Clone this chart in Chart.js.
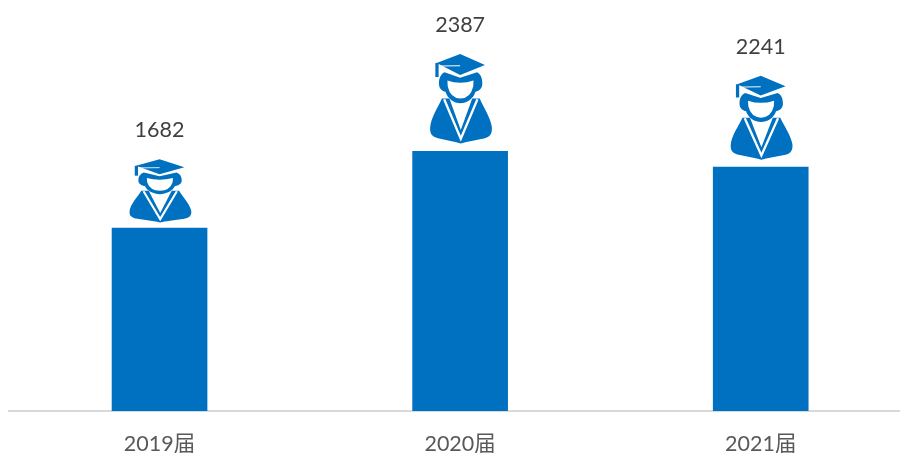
<!DOCTYPE html>
<html>
<head>
<meta charset="utf-8">
<style>
html,body{margin:0;padding:0;background:#fff;overflow:hidden;width:900px;height:453px}
canvas{display:block}
</style>
<script src="https://cdn.jsdelivr.net/npm/chart.js@4/dist/chart.umd.min.js"></script>
</head>
<body>
<canvas id="c" width="911" height="453"></canvas>
<script>
const categories = ['2019届', '2020届', '2021届'];
const graduates = [1682, 2387, 2241];

const BLUE = '#0070C0';
const FONT = 'Lato, "Noto Sans CJK SC", sans-serif';

function drawGraduate(ctx, cx, bottom, w, h) {
  const sx = w / 190, sy = h / 267;
  ctx.save();
  ctx.filter = 'blur(0.6px)';
  ctx.translate(cx - 153 * sx, bottom - 412 * sy);
  ctx.scale(sx, sy);
  ctx.fillStyle = BLUE;
  // body
  ctx.beginPath();
  ctx.moveTo(94, 278);
  ctx.bezierCurveTo(82, 305, 60, 335, 58, 365);
  ctx.bezierCurveTo(57, 385, 66, 392, 82, 396);
  ctx.lineTo(138, 408); ctx.lineTo(152, 412); ctx.lineTo(166, 408);
  ctx.lineTo(226, 396);
  ctx.bezierCurveTo(242, 392, 249, 382, 247, 362);
  ctx.bezierCurveTo(243, 335, 222, 305, 210, 278);
  ctx.closePath();
  ctx.fill();
  // collar cut
  ctx.fillStyle = '#fff';
  ctx.beginPath();
  ctx.moveTo(114, 270); ctx.lineTo(152, 372); ctx.lineTo(190, 270);
  ctx.closePath();
  ctx.fill();
  ctx.strokeStyle = '#fff';
  ctx.lineWidth = 7;
  ctx.beginPath();
  ctx.moveTo(101, 280); ctx.lineTo(152, 398); ctx.lineTo(203, 280);
  ctx.stroke();
  // head and hair
  ctx.fillStyle = BLUE;
  ctx.beginPath();
  ctx.moveTo(85, 234);
  ctx.bezierCurveTo(85, 215, 92, 205, 102, 200);
  ctx.lineTo(150, 216);
  ctx.lineTo(202, 200);
  ctx.bezierCurveTo(212, 205, 218, 216, 218, 234);
  ctx.bezierCurveTo(218, 250, 205, 256, 197, 258);
  ctx.bezierCurveTo(190, 280, 170, 292, 151, 292);
  ctx.bezierCurveTo(132, 292, 112, 280, 105, 258);
  ctx.bezierCurveTo(97, 256, 85, 250, 85, 234);
  ctx.closePath();
  ctx.fill();
  // face
  ctx.fillStyle = '#fff';
  ctx.beginPath();
  ctx.moveTo(111, 224);
  ctx.quadraticCurveTo(150, 238, 191, 224);
  ctx.lineTo(190, 242);
  ctx.quadraticCurveTo(182, 277, 151, 278);
  ctx.quadraticCurveTo(120, 277, 112, 242);
  ctx.closePath();
  ctx.fill();
  // cap
  ctx.fillStyle = BLUE;
  ctx.beginPath();
  ctx.moveTo(150, 145); ctx.lineTo(226, 178); ctx.lineTo(150, 208); ctx.lineTo(78, 172);
  ctx.closePath();
  ctx.fill();
  ctx.fillRect(74, 172, 10, 42);
  ctx.strokeStyle = '#fff';
  ctx.lineWidth = 3;
  ctx.beginPath();
  ctx.moveTo(87, 181); ctx.lineTo(150, 180);
  ctx.stroke();
  ctx.restore();
}

const graduatePlugin = {
  id: 'graduate',
  afterDatasetsDraw(chart) {
    const ctx = chart.ctx;
    const meta = chart.getDatasetMeta(0);
    meta.data.forEach((bar, i) => {
      const barH = bar.base - bar.y;
      const h = barH * 0.345;
      const bottom = bar.y - barH * 0.03;
      drawGraduate(ctx, bar.x + 1, bottom, 62, h);
      ctx.save();
      ctx.font = '21.5px ' + FONT;
      ctx.fillStyle = '#404040';
      ctx.textAlign = 'center';
      ctx.textBaseline = 'middle';
      ctx.fillText(String(graduates[i]), bar.x, bottom - h - 29);
      ctx.restore();
    });
  }
};

new Chart(document.getElementById('c'), {
  type: 'bar',
  data: {
    labels: categories,
    datasets: [{
      data: graduates,
      backgroundColor: BLUE,
      borderWidth: 0,
      barThickness: 95
    }]
  },
  options: {
    responsive: false,
    animation: false,
    layout: { padding: { left: 9.25, top: 30.2, right: 0, bottom: 0 } },
    plugins: { legend: { display: false }, tooltip: { enabled: false } },
    scales: {
      x: {
        grid: { display: false, drawTicks: false },
        border: { display: true, color: '#D9D9D9', width: 2 },
        ticks: { color: '#595959', font: { size: 21.5, family: FONT }, padding: 20, maxRotation: 0 },
        afterFit(scale) { scale.height = 42; }
      },
      y: { display: false, min: 0, max: 3500 }
    }
  },
  plugins: [graduatePlugin]
});
</script>
</body>
</html>
